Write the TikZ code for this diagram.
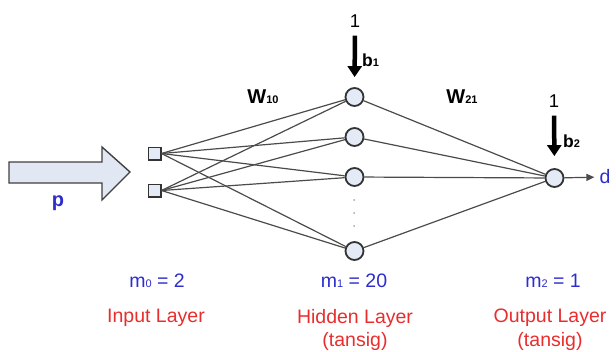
\documentclass[tikz,border=0pt]{standalone}
\usepackage{fontspec}
\setmainfont{Liberation Sans}
\usetikzlibrary{arrows.meta}
\definecolor{nodefill}{RGB}{228,234,246}
\definecolor{labblue}{RGB}{45,45,205}
\definecolor{labred}{RGB}{232,45,45}
\definecolor{linegray}{RGB}{75,75,75}
\definecolor{bigarrowfill}{RGB}{225,232,244}
\newcommand{\sbs}[1]{{\fontsize{11}{11}\selectfont #1}}
\begin{document}
\begin{tikzpicture}[x=1pt,y=-1pt,
  neuron/.style={circle,draw=black!80,line width=1.8pt,fill=nodefill,minimum size=18pt,inner sep=0pt},
  inbox/.style={rectangle,draw=black!80,line width=1.5pt,fill=nodefill,minimum size=12.5pt,inner sep=0pt},
  conn/.style={draw=linegray,line width=1.2pt},
  bias/.style={line width=4.5pt,-{Triangle[width=14pt,length=11pt]}},
  lbl/.style={font=\fontsize{19.5}{22}\selectfont,inner sep=0pt},
  bluelbl/.style={lbl,text=labblue},
  redlbl/.style={lbl,text=labred},
  boldlbl/.style={font=\fontsize{20}{22}\selectfont\bfseries,inner sep=0pt},
  onelbl/.style={font=\fontsize{18.5}{20}\selectfont,inner sep=0pt},
  blbl/.style={font=\fontsize{17.5}{20}\selectfont\bfseries,inner sep=0pt},
  dotmark/.style={circle,fill=black!35,minimum size=2pt,inner sep=0pt}
]
\useasboundingbox (0,0) rectangle (616,351);

% big input arrow
\draw[draw=black!75,line width=1.4pt,fill=bigarrowfill,line join=miter]
  (9,162) -- (102,162) -- (102,147) -- (130,172) -- (102,200) -- (102,183) -- (9,183) -- cycle;
\node[boldlbl,text=labblue] (p) at (58,203) {p};

% input nodes
\node[inbox] (i1) at (154.5,153.5) {};
\node[inbox] (i2) at (154.5,190.5) {};

% hidden nodes
\node[neuron] (h1) at (354.5,97) {};
\node[neuron] (h2) at (354.5,137) {};
\node[neuron] (h3) at (354.5,177) {};
\node[neuron] (h4) at (354.5,251) {};
\node[dotmark] (d1) at (354,200) {};
\node[dotmark] (d2) at (354,213) {};
\node[dotmark] (d3) at (354,226) {};

% output node
\node[neuron] (o) at (554.5,178) {};

% connections
\foreach \i in {i1,i2}{
  \foreach \h in {h1,h2,h3,h4}{
    \draw[conn] (\i.east) -- (\h);
  }
}
\foreach \h in {h1,h2,h3,h4}{
  \draw[conn] (\h) -- (o);
}

% output arrow
\node[lbl,text=labblue] (d) at (605,177) {d};
\draw[conn,-{Triangle[width=7pt,length=8pt]},shorten >=5pt] (o) -- (d);

% biases
\node[onelbl] (one1) at (355,21) {1};
\draw[bias,shorten <=8pt,shorten >=10pt] (one1) -- (h1);
\node[blbl,anchor=west] (b1) at (362,60) {b\sbs{\bfseries 1}};
\node[onelbl] (one2) at (554,101) {1};
\draw[bias,shorten <=8pt,shorten >=12pt] (one2) -- (o);
\node[blbl,anchor=west] (b2) at (563,141) {b\sbs{\bfseries 2}};

% weights
\node[boldlbl] (w10) at (263,97) {W\sbs{\bfseries 10}};
\node[boldlbl] (w21) at (462,97) {W\sbs{\bfseries 21}};

% layer labels
\node[bluelbl] (m0) at (157,281) {m\sbs{0} = 2};
\node[redlbl] (l0) at (156,318) {Input Layer};
\node[bluelbl] (m1) at (354,281) {m\sbs{1} = 20};
\node[redlbl] (l1) at (355,318) {Hidden Layer};
\node[redlbl] (t1) at (355,341) {(tansig)};
\node[bluelbl] (m2) at (553,281) {m\sbs{2} = 1};
\node[redlbl] (l2) at (550,318) {Output Layer};
\node[redlbl] (t2) at (550,341) {(tansig)};
\end{tikzpicture}
\end{document}
